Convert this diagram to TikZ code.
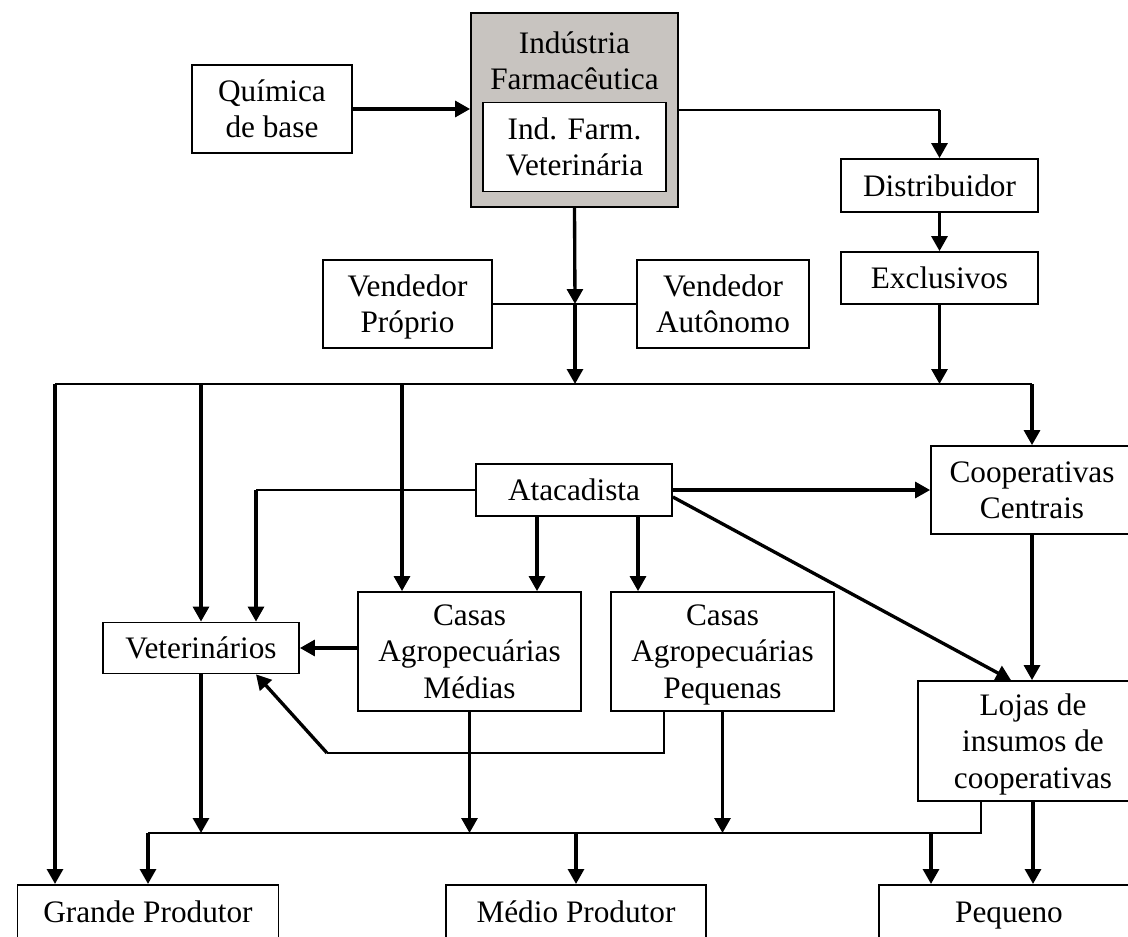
\documentclass[tikz,border=0pt]{standalone}
\usepackage{fontspec}
\setmainfont{Liberation Serif}
\usetikzlibrary{calc,arrows.meta}
\newcommand\pxu{0.02cm}
\newcommand\boxfont{\fontsize{17.8}{20.6}\selectfont}
\definecolor{indgray}{RGB}{200,196,192}

\begin{document}
\begin{tikzpicture}[
      x=\pxu, y=-\pxu,
      box/.style = {
        draw=black,
        line width=1pt,
        fill=white,
        align=center,
        inner sep=0pt,
        text depth=0pt,
        font=\boxfont,
      },
      txt/.style = {
        align=center,
        inner sep=0pt,
        font=\boxfont,
      },
      arr/.style = {
        draw=black,
        line width=1.9pt,
        -{Triangle[length=8.5pt,width=9pt]},
      },
      ln/.style = {
        draw=black,
        line width=1.1pt,
      },
    ]
      \useasboundingbox (0,0) rectangle (1128,936);
      \clip (0,0) rectangle (1128,936);

      \node[box, minimum width=160*\pxu, minimum height=88*\pxu] (quim) at (272,109) {Química\\de base};
      \node[box, fill=indgray, minimum width=207*\pxu, minimum height=194*\pxu] (ind) at (574.5,110) {};
      \node[txt] (indtxt) at (574.5,61) {Indústria\\Farmacêutica};
      \node[box, minimum width=183*\pxu, minimum height=89*\pxu] (indvet) at (574.5,147) {Ind. Farm.\\Veterinária};
      \node[box, minimum width=197*\pxu, minimum height=53*\pxu] (dist) at (939.5,185.5) {Distribuidor};
      \node[box, minimum width=197*\pxu, minimum height=52*\pxu] (excl) at (939.5,278) {Exclusivos};
      \node[box, minimum width=169*\pxu, minimum height=88*\pxu] (vprop) at (407.5,304) {Vendedor\\Próprio};
      \node[box, minimum width=172*\pxu, minimum height=88*\pxu] (vaut) at (723,304) {Vendedor\\Autônomo};
      \node[box, minimum width=196*\pxu, minimum height=52*\pxu] (ata) at (574,490) {Atacadista};
      \node[box, minimum width=202*\pxu, minimum height=88*\pxu] (coop) at (1032,490) {Cooperativas\\Centrais};
      \node[box, minimum width=196*\pxu, minimum height=51*\pxu] (vet) at (201,648) {Veterinários};
      \node[box, minimum width=223*\pxu, minimum height=119*\pxu] (cmed) at (469.5,651.5) {Casas\\Agropecuárias\\Médias};
      \node[box, minimum width=223*\pxu, minimum height=119*\pxu] (cpeq) at (722.5,651.5) {Casas\\Agropecuárias\\Pequenas};
      \node[box, minimum width=230*\pxu, minimum height=120*\pxu] (lojas) at (1033,741) {Lojas de\\insumos de\\cooperativas};

      % bottom boxes run past the lower edge
      \node[box, anchor=north, minimum width=261*\pxu, minimum height=80*\pxu] (grande) at (148,884) {};
      \node[box, anchor=north, minimum width=260*\pxu, minimum height=80*\pxu] (medio) at (576,884) {};
      \node[box, anchor=north, minimum width=260*\pxu, minimum height=80*\pxu] (peq) at (1009,884) {};
      \node[txt, anchor=base] (grandetxt) at (148,922) {Grande Produtor};
      \node[txt, anchor=base] (mediotxt) at (576,922) {Médio Produtor};
      \node[txt, anchor=base] (peqtxt) at (1009,922) {Pequeno};

      \coordinate (vj) at (575,304);
      \coordinate (bus1L) at (55,384);
      \coordinate (bus1R) at (1032,384);
      \coordinate (b2) at (402,384);
      \coordinate (av) at (256,490);
      \coordinate (am) at (537,516);
      \coordinate (ap) at (638,516);
      \coordinate (pk) at (664,753);
      \coordinate (kink) at (327,753);
      \coordinate (bus2L) at (148,833);
      \coordinate (bus2R) at (981,833);
      \coordinate (bp) at (931,833);

      % top part
      \draw[arr] (quim.east) -- (quim.east -| ind.west);
      \draw[ln] (ind.east) -- (ind.east -| dist.north);
      \draw[arr] (ind.east -| dist.north) -- (dist.north);
      \draw[arr] (dist.south) -- (excl.north);
      \draw[arr] (excl.south) -- (excl.south |- bus1R);
      \draw[arr] (ind.south) -- (vj);
      \draw[ln] (vprop.east) -- (vaut.west);
      \draw[arr] (vj) -- (vj |- bus1L);

      % first bus
      \draw[ln] (bus1L) -- (bus1R);
      \draw[arr] (bus1L) -- (bus1L |- grande.north);
      \draw[arr] (bus1L -| vet.north) -- (vet.north);
      \draw[arr] (b2) -- (b2 |- cmed.north);
      \draw[arr] (bus1R) -- (coop.north);

      % atacadista
      \draw[ln] (ata.west) -- (av);
      \draw[arr] (av) -- (av |- vet.north);
      \draw[arr] (ata.east) -- (coop.west);
      \draw[arr] ($(ata.east)+(0,7)$) -- ($(lojas.north)+(-22,0)$);
      \draw[arr] (am) -- (am |- cmed.north);
      \draw[arr] (ap) -- (ap |- cpeq.north);
      \draw[arr] (coop.south) -- (coop.south |- lojas.north);

      % casas and veterinarios
      \draw[arr] (cmed.west |- vet.east) -- (vet.east);
      \draw[ln] (pk |- cpeq.south) -- (pk) -- (kink);
      \draw[arr] (kink) -- (av |- vet.south);

      % second bus
      \draw[arr] (vet.south) -- (vet.south |- bus2L);
      \draw[arr] (cmed.south) -- (cmed.south |- bus2L);
      \draw[arr] (cpeq.south) -- (cpeq.south |- bus2L);
      \draw[ln] (lojas.south -| bus2R) -- (bus2R) -- (bus2L);
      \draw[arr] (bus2L) -- (grande.north);
      \draw[arr] (bus2L -| medio.north) -- (medio.north);
      \draw[arr] (bp) -- (bp |- peq.north);
      \draw[arr] (lojas.south) -- (lojas.south |- peq.north);

    \end{tikzpicture}
\end{document}
